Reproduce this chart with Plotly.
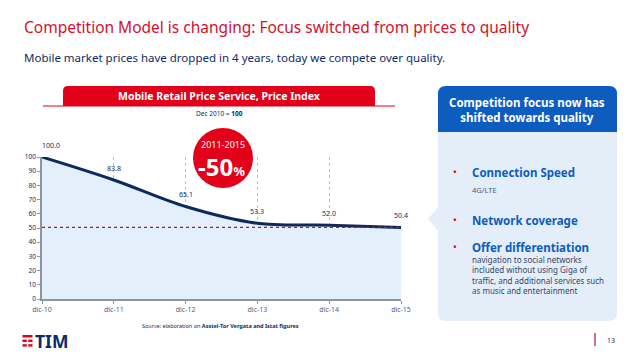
import plotly.graph_objects as go

years = ["dic-10", "dic-11", "dic-12", "dic-13", "dic-14", "dic-15"]
price_index = [100.0, 83.8, 65.1, 53.3, 52.0, 50.4]
yticks = [0, 10, 20, 30, 40, 50, 60, 70, 80, 90, 100]
bullets = ["Connection Speed", "Network coverage", "Offer differentiation"]

RED = "#e2001a"
NAVY = "#0c2c66"
BLUE = "#0d5cbf"
FONT = "Noto Sans"

# page pixel -> paper helpers (plot area on page: x 42..401, y 157..299)
def X(px):
    return (px - 42) / 359.0

def Y(py):
    return (299 - py) / 142.0

def rrect(x0, y0, x1, y1, rt, rb):
    pts = [
        f"M {X(x0)},{Y(y0 + rt)}",
        f"Q {X(x0)},{Y(y0)} {X(x0 + rt)},{Y(y0)}",
        f"L {X(x1 - rt)},{Y(y0)}",
        f"Q {X(x1)},{Y(y0)} {X(x1)},{Y(y0 + rt)}",
        f"L {X(x1)},{Y(y1 - rb)}",
        f"Q {X(x1)},{Y(y1)} {X(x1 - rb)},{Y(y1)}",
        f"L {X(x0 + rb)},{Y(y1)}",
        f"Q {X(x0)},{Y(y1)} {X(x0)},{Y(y1 - rb)}",
        "Z",
    ]
    return " ".join(pts)

xs = list(range(len(years)))

fig = go.Figure()
fig.add_trace(go.Scatter(
    x=xs, y=price_index, mode="lines",
    line=dict(color="#0b2a5e", width=3, shape="spline", smoothing=1.0),
    fill="tozeroy", fillcolor="#e3effb", hoverinfo="skip",
))
fig.add_trace(go.Scatter(
    x=[xs[0], xs[-1]], y=[price_index[-1], price_index[-1]], mode="lines",
    line=dict(color="#c8102e", width=1.2, dash="dot"), hoverinfo="skip",
))

annotations = []
for i, v in enumerate(price_index):
    annotations.append(dict(
        x=i, y=v, xref="x", yref="y", text=f"{v:.1f}", showarrow=False,
        yshift=12, xshift=9 if i == 0 else 0,
        font=dict(family=FONT, size=7, color=NAVY),
    ))

def ann(px, py, text, size, color, bold=False, xanchor="center", align="center", family=FONT):
    annotations.append(dict(
        x=X(px), y=Y(py), xref="paper", yref="paper",
        text=f"<b>{text}</b>" if bold else text, showarrow=False,
        xanchor=xanchor, yanchor="middle", align=align,
        font=dict(family=family, size=size, color=color),
    ))

ann(22, 27, "Competition Model is changing: Focus switched from prices to quality", 15.5, "#d4102d", xanchor="left")
ann(22, 57, "Mobile market prices have dropped in 4 years, today we compete over quality.", 11.5, NAVY, xanchor="left")
ann(219, 96, "Mobile Retail Price Service, Price Index", 10.5, "white", bold=True)
ann(219, 113, "Dec 2010 = <b>100</b>", 6.5, NAVY)
ann(223, 145, "2011-2015", 9, "white")
ann(221, 166, "<b>-50</b><span style='font-size:13px'><b>%</b></span>", 24, "white")
ann(527, 110, "Competition focus now has<br>shifted towards quality", 11.5, "white", bold=True)
for txt, py in zip(bullets, [172, 220, 247]):
    ann(451, py, "•", 10, RED, xanchor="left")
    ann(470, py, txt, 11.5, BLUE, bold=True, xanchor="left")
ann(470, 190, "4G/LTE", 7.5, "#4a5a7a", xanchor="left")
ann(470, 275, "navigation to social networks<br>included without using Giga of<br>traffic, and additional services such<br>as music and entertainment",
    8, "#33476d", xanchor="left", align="left")
ann(220, 326, "Source: elaboration on <b>Asstel-Tor Vergata and Istat figures</b>", 5.5, NAVY)
ann(33, 341, "TIM", 17.5, NAVY, bold=True, xanchor="left")
ann(605, 340, "13", 7, NAVY, xanchor="left")

shapes = [
    dict(type="path", xref="paper", yref="paper", path=rrect(63, 86, 375, 106, 5, 0),
         fillcolor=RED, line=dict(width=0), layer="below"),
    dict(type="line", xref="paper", yref="paper", x0=X(43), x1=X(395), y0=Y(106), y1=Y(106),
         line=dict(color=RED, width=1.2)),
    dict(type="circle", xref="paper", yref="paper", x0=X(193), x1=X(253), y0=Y(128), y1=Y(188),
         fillcolor=RED, line=dict(width=0)),
    dict(type="path", xref="paper", yref="paper", path=rrect(438, 86, 617, 321, 8, 8),
         fillcolor="#e4eef8", line=dict(width=0), layer="below"),
    dict(type="path", xref="paper", yref="paper",
         path=f"M {X(439)},{Y(206)} L {X(428)},{Y(219)} L {X(439)},{Y(232)} Z",
         fillcolor="#e4eef8", line=dict(width=0), layer="below"),
    dict(type="path", xref="paper", yref="paper", path=rrect(438, 86, 617, 132, 8, 0),
         fillcolor=BLUE, line=dict(width=0), layer="below"),
    dict(type="line", xref="paper", yref="paper", x0=X(595), x1=X(595), y0=Y(333), y1=Y(346),
         line=dict(color="#b0102a", width=1.2)),
]
for (a, b, c, d) in [(22.5, 32.5, 335, 337.5), (22.5, 26.8, 339.6, 342), (28.2, 32.5, 339.6, 342),
                     (22.5, 26.8, 344.2, 346.6), (28.2, 32.5, 344.2, 346.6)]:
    shapes.append(dict(type="rect", xref="paper", yref="paper", x0=X(a), x1=X(b), y0=Y(c), y1=Y(d),
                       fillcolor=RED, line=dict(width=0)))

# the page body has an 8px margin, so the figure is 8px smaller and offset by 8px
fig.update_layout(
    width=630, height=351,
    margin=dict(l=34, r=237, t=149, b=60),
    paper_bgcolor="white", plot_bgcolor="rgba(0,0,0,0)",
    showlegend=False,
    annotations=annotations, shapes=shapes,
    xaxis=dict(
        range=[0, 5], tickvals=xs, ticktext=years,
        showgrid=True, gridcolor="#b8bec8", griddash="dot", gridwidth=1,
        showline=True, linecolor="#8c95a5", linewidth=1.5,
        ticks="outside", ticklen=3, tickcolor="#8c95a5",
        tickfont=dict(family=FONT, size=7, color="#4a5f86"),
        zeroline=False, fixedrange=True,
    ),
    yaxis=dict(
        range=[0, 100], tickvals=yticks,
        showgrid=False, zeroline=False,
        showline=True, linecolor="#8c95a5", linewidth=1.5,
        ticks="outside", ticklen=3, tickcolor="#8c95a5",
        tickfont=dict(family=FONT, size=6.5, color=NAVY),
        fixedrange=True,
    ),
)

fig.write_html("out.html")
